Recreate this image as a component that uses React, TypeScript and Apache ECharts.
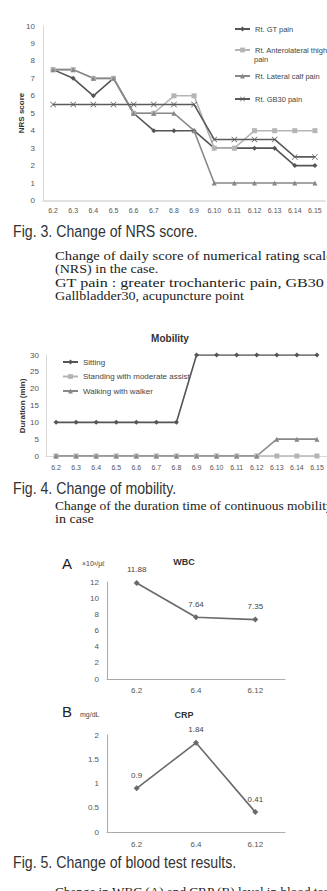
import React, { useEffect, useRef } from "react";
import * as echarts from "echarts";

const days = ["6.2", "6.3", "6.4", "6.5", "6.6", "6.7", "6.8", "6.9", "6.10", "6.11", "6.12", "6.13", "6.14", "6.15"];
const gtPain = [7.5, 7, 6, 7, 5, 4, 4, 4, 3, 3, 3, 3, 2, 2];
const anteroPain = [7.5, 7.5, 7, 7, 5, 5, 6, 6, 3, 3, 4, 4, 4, 4];
const calfPain = [7.5, 7.5, 7, 7, 5, 5, 5, 4, 1, 1, 1, 1, 1, 1];
const gb30Pain = [5.5, 5.5, 5.5, 5.5, 5.5, 5.5, 5.5, 5.5, 3.5, 3.5, 3.5, 3.5, 2.5, 2.5];

const sitting = [10, 10, 10, 10, 10, 10, 10, 30, 30, 30, 30, 30, 30, 30];
const standing = [0, 0, 0, 0, 0, 0, 0, 0, 0, 0, 0, 0, 0, 0];
const walking = [0, 0, 0, 0, 0, 0, 0, 0, 0, 0, 0, 5, 5, 5];

const labDays = ["6.2", "6.4", "6.12"];
const wbc = [11.88, 7.64, 7.35];
const crp = [0.9, 1.84, 0.41];

const SANS = '"Liberation Sans", Arial, sans-serif';
const SERIF = '"Liberation Serif", "DejaVu Serif", serif';
const CAP_FONT = `17px ${SANS}`;
const DESC_FONT = `13px ${SERIF}`;

const xSym = "path://M0,0.8L0.8,0L5,4.2L9.2,0L10,0.8L5.8,5L10,9.2L9.2,10L5,5.8L0.8,10L0,9.2L4.2,5Z";

let ctx: CanvasRenderingContext2D | null = null;
function measure(t: string, font: string) {
  if (!ctx) ctx = document.createElement("canvas").getContext("2d");
  ctx!.font = font;
  return ctx!.measureText(t).width;
}

function fitText(text: string, x: number, y: number, font: string, width: number, fill = "#222") {
  const w = measure(text, font);
  return {
    type: "text",
    x,
    y,
    scaleX: width / w,
    style: { text, font, fill, align: "left", verticalAlign: "middle" },
  };
}

function scaledText(text: string, x: number, y: number, font: string, scale: number, fill = "#222") {
  return {
    type: "text",
    x,
    y,
    scaleX: scale,
    style: { text, font, fill, align: "left", verticalAlign: "middle" },
  };
}

function plainText(text: string, x: number, y: number, fontSize: number, opts: any = {}) {
  return {
    type: "text",
    x,
    y,
    rotation: opts.rotation || 0,
    style: {
      text,
      fontSize,
      fontFamily: opts.fontFamily || SANS,
      fontWeight: opts.fontWeight || "normal",
      fill: opts.fill || "#333",
      align: opts.align || "left",
      verticalAlign: "middle",
    },
  };
}

export default function App() {
  const ref = useRef<HTMLDivElement>(null);
  useEffect(() => {
    const chart = echarts.init(ref.current!, null, { renderer: "svg" });

    const capScale = 185 / measure("Fig. 3. Change of NRS score.", CAP_FONT);
    const descScale = 189 / measure("Gallbladder30, acupuncture point", DESC_FONT);

    const axisLabel = (size: number, margin: number) => ({
      fontSize: size,
      color: "#555",
      fontFamily: SANS,
      margin,
    });

    const lineSeries = (name: string, data: number[], idx: number, color: string, symbol: string, size: number, extra: any = {}) => ({
      name,
      type: "line",
      data,
      xAxisIndex: idx,
      yAxisIndex: idx,
      symbol,
      symbolSize: size,
      lineStyle: { color, width: 1.6 },
      itemStyle: { color },
      ...extra,
    });

    const legendBase = {
      orient: "vertical",
      itemWidth: 15,
      itemHeight: 6,
      padding: 0,
      selectedMode: false,
      textStyle: { fontSize: 7.5, color: "#444", fontFamily: SANS },
    };

    const option: any = {
      animation: false,
      backgroundColor: "#fff",
      grid: [
        { left: 43, top: 26, width: 282, height: 174.5 },
        { left: 46, top: 355, width: 282, height: 101 },
        { left: 107, top: 582, width: 178, height: 97 },
        { left: 107, top: 735, width: 178, height: 97 },
      ],
      xAxis: [
        {
          gridIndex: 0, type: "category", data: days,
          axisLine: { lineStyle: { color: "#d9d9d9", width: 1.5 } },
          axisTick: { show: false },
          axisLabel: axisLabel(7, 6),
        },
        {
          gridIndex: 1, type: "category", data: days,
          axisLine: { lineStyle: { color: "#d9d9d9", width: 1.2 } },
          axisTick: { show: false },
          axisLabel: axisLabel(7, 8),
        },
        {
          gridIndex: 2, type: "category", data: labDays,
          axisLine: { lineStyle: { color: "#aaa" } },
          axisTick: { show: false },
          axisLabel: axisLabel(8, 7),
        },
        {
          gridIndex: 3, type: "category", data: labDays,
          axisLine: { lineStyle: { color: "#aaa" } },
          axisTick: { show: false },
          axisLabel: axisLabel(8, 8),
        },
      ],
      yAxis: [
        {
          gridIndex: 0, type: "value", min: 0, max: 10, interval: 1,
          axisLine: { show: true, lineStyle: { color: "#d9d9d9" } },
          axisTick: { show: false }, splitLine: { show: false },
          axisLabel: axisLabel(8, 8),
        },
        {
          gridIndex: 1, type: "value", min: 0, max: 30, interval: 5,
          axisLine: { show: true, lineStyle: { color: "#d9d9d9" } },
          axisTick: { show: false }, splitLine: { show: false },
          axisLabel: axisLabel(8, 7),
        },
        {
          gridIndex: 2, type: "value", min: 0, max: 12, interval: 2,
          axisLine: { show: true, lineStyle: { color: "#aaa" } },
          axisTick: { show: false }, splitLine: { show: false },
          axisLabel: axisLabel(8, 8),
        },
        {
          gridIndex: 3, type: "value", min: 0, max: 2, interval: 0.5,
          axisLine: { show: true, lineStyle: { color: "#aaa" } },
          axisTick: { show: false }, splitLine: { show: false },
          axisLabel: axisLabel(8, 8),
        },
      ],
      legend: [
        { ...legendBase, data: ["Rt. GT pain"], left: 234, top: 25 },
        { ...legendBase, data: ["Rt. Anterolateral thigh"], left: 234, top: 46 },
        { ...legendBase, data: ["Rt. Lateral calf pain"], left: 234, top: 72 },
        { ...legendBase, data: ["Rt. GB30 pain"], left: 234, top: 95 },
        {
          ...legendBase,
          data: ["Sitting", "Standing with moderate assist", "Walking with walker"],
          left: 62, top: 358, itemGap: 6.5,
          textStyle: { fontSize: 8, color: "#444", fontFamily: SANS },
        },
      ],
      series: [
        lineSeries("Rt. GT pain", gtPain, 0, "#555", "diamond", 5),
        lineSeries("Rt. Anterolateral thigh", anteroPain, 0, "#b5b5b5", "rect", 5),
        lineSeries("Rt. Lateral calf pain", calfPain, 0, "#888", "triangle", 5),
        lineSeries("Rt. GB30 pain", gb30Pain, 0, "#5a5a5a", xSym, 6),
        lineSeries("Standing with moderate assist", standing, 1, "#b5b5b5", "rect", 5),
        lineSeries("Walking with walker", walking, 1, "#888", "triangle", 5),
        lineSeries("Sitting", sitting, 1, "#555", "diamond", 5),
        lineSeries("WBC", wbc, 2, "#6a6a6a", "diamond", 6, {
          label: { show: true, position: "top", distance: 6, fontSize: 8, color: "#444", fontFamily: SANS },
        }),
        lineSeries("CRP", crp, 3, "#6a6a6a", "diamond", 6, {
          label: { show: true, position: "top", distance: 6, fontSize: 8, color: "#444", fontFamily: SANS },
        }),
      ],
      graphic: [
        plainText("pain", 254, 59, 7.5, { fill: "#444" }),
        plainText("NRS score", 21, 113, 8, { rotation: Math.PI / 2, align: "center", fontWeight: "bold", fill: "#333" }),
        scaledText("Fig. 3. Change of NRS score.", 13, 231, CAP_FONT, capScale, "#333"),
        fitText("Change of daily score of numerical rating scale", 55, 256, DESC_FONT, 278),
        scaledText("(NRS) in the case.", 55, 269, DESC_FONT, descScale),
        fitText("GT pain : greater trochanteric pain, GB30 :", 55, 283, DESC_FONT, 278),
        scaledText("Gallbladder30, acupuncture point", 55, 296, DESC_FONT, descScale),

        plainText("Mobility", 170, 338, 10, { align: "center", fontWeight: "bold", fill: "#333" }),
        plainText("Duration (min)", 22, 406, 8, { rotation: Math.PI / 2, align: "center", fontWeight: "bold", fill: "#333" }),
        scaledText("Fig. 4. Change of mobility.", 13, 488, CAP_FONT, capScale, "#333"),
        fitText("Change of the duration time of continuous mobility", 55, 506, DESC_FONT, 278),
        scaledText("in case", 55, 519, DESC_FONT, descScale),

        plainText("A", 62, 563, 15, { fill: "#222" }),
        plainText("×10³/μℓ", 82, 563, 7, { fill: "#444" }),
        plainText("WBC", 184, 562, 9, { align: "center", fontWeight: "bold", fill: "#333" }),
        plainText("B", 62, 711, 15, { fill: "#222" }),
        plainText("mg/dL", 80, 714, 7, { fill: "#444" }),
        plainText("CRP", 184, 715, 9, { align: "center", fontWeight: "bold", fill: "#333" }),
        scaledText("Fig. 5. Change of blood test results.", 13, 862, CAP_FONT, capScale, "#333"),
        fitText("Change in WBC (A) and CRP (B) level in blood test", 55, 892, DESC_FONT, 278),
      ],
    };

    chart.setOption(option);
    return () => chart.dispose();
  }, []);

  return (
    <div
      ref={ref}
      style={{ position: "absolute", left: 0, top: 0, width: 327, height: 891, background: "#fff" }}
    />
  );
}
